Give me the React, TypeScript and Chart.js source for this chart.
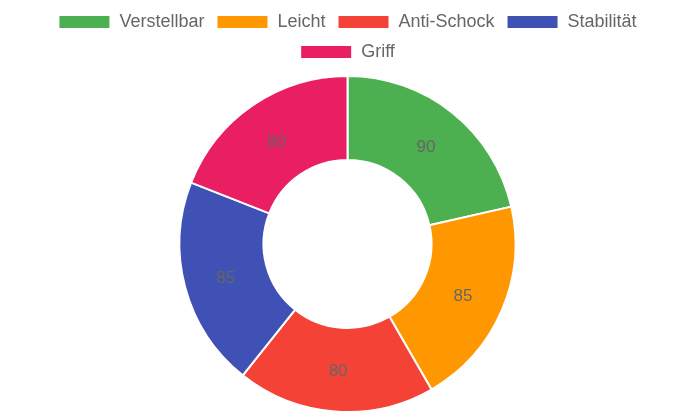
import React, { useEffect, useRef } from "react";
import { Chart, registerables } from "chart.js";

Chart.register(...registerables);

const categories = ["Verstellbar", "Leicht", "Anti-Schock", "Stabilität", "Griff"];
const values = [90, 85, 80, 85, 80];
const colors = ["#4CAF50", "#FF9800", "#F44336", "#3F51B5", "#E91E63"];

const FONT = "'Liberation Sans', Arial, Helvetica, sans-serif";

const labelPlugin = {
  id: "sliceLabels",
  afterDatasetsDraw(chart: any) {
    const ctx = chart.ctx;
    const meta = chart.getDatasetMeta(0);
    ctx.save();
    ctx.font = "17px " + FONT;
    ctx.fillStyle = "#666666";
    ctx.textAlign = "center";
    ctx.textBaseline = "middle";
    meta.data.forEach((arc: any, i: number) => {
      const p = arc.tooltipPosition();
      ctx.fillText(String(values[i]), p.x, p.y + 2);
    });
    ctx.restore();
  },
};

export default function App() {
  const ref = useRef<HTMLCanvasElement>(null);
  useEffect(() => {
    document.body.style.margin = "0";
    const chart = new Chart(ref.current!, {
      type: "doughnut",
      data: {
        labels: categories,
        datasets: [
          {
            data: values,
            backgroundColor: colors,
            borderColor: "#ffffff",
            borderWidth: 2,
          },
        ],
      },
      options: {
        animation: false,
        responsive: false,
        cutout: "50%",
        radius: 168,
        layout: { padding: { top: 1 } },
        plugins: {
          legend: {
            position: "top",
            labels: {
              boxWidth: 52,
              boxHeight: 14,
              padding: 12,
              color: "#666666",
              font: { size: 18, family: FONT },
            },
          },
          tooltip: { enabled: false },
        },
      },
      plugins: [labelPlugin],
    });
    return () => chart.destroy();
  }, []);
  return (
    <div style={{ width: 695, height: 417 }}>
      <canvas ref={ref} width={695} height={417} />
    </div>
  );
}
